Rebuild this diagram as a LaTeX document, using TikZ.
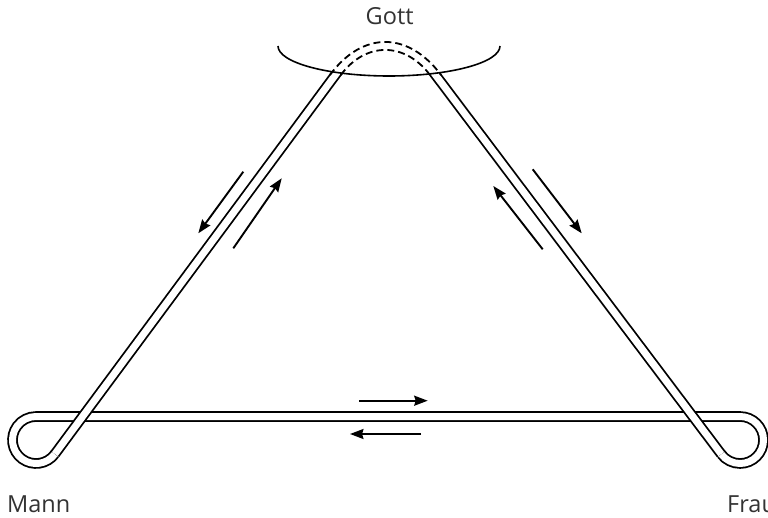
\documentclass[tikz,border=0pt]{standalone}
\usepackage{fontspec}
\setmainfont{Open Sans}
\usetikzlibrary{arrows.meta,calc}
\tikzset{
  band/.style={line width=1.8pt, double=white, double distance=7.0pt},
  hidden/.style={line width=1.8pt, dash pattern=on 7pt off 4pt},
  flow/.style={line width=1.9pt, -{Stealth[length=13.5pt,width=10pt,inset=1.5pt]}},
  lbl/.style={inner sep=0pt, anchor=base west, font=\fontsize{23.5}{26}\selectfont, text=black!80}
}
\begin{document}
\begin{tikzpicture}[x=1pt,y=1pt]
\useasboundingbox (0,0) rectangle (768,517);
% loop centres and tangent points
\coordinate (CL) at (36,77);
\coordinate (CR) at (740,77);
\coordinate (TL) at ($(CL)+(-36.5:23.5)$);
\coordinate (TR) at ($(CR)+(217:23.5)$);
% loops and the horizontal band
\draw[band] (TL) arc[start angle=-36.5, end angle=-270, radius=23.5]
  -- (740,100.5) arc[start angle=90, end angle=-143, radius=23.5];
% diagonal bands, hidden inside the halo ellipse
\begin{scope}[even odd rule]
  \clip (-10,-10) rectangle (780,530) (389,471) ellipse [x radius=111, y radius=30];
  \draw[band] (TL) -- ++(53.5:490);
  \draw[band] (TR) -- ++(127:490);
\end{scope}
% dashed arch behind the halo
\coordinate (LO) at (329.9,442);
\coordinate (RO) at (441.1,442);
\coordinate (LI) at (340.8,442);
\coordinate (RI) at (430.0,442);
\draw[hidden] (LO) .. controls (362.6,486.2) and (408.0,485.9) .. (RO);
\draw[hidden] (LI) .. controls (365.6,475.5) and (404.9,475.3) .. (RI);
% halo
\draw[line width=1.6pt] (278,471) arc[start angle=180, end angle=360, x radius=111, y radius=30];
% arrows
\coordinate (a1s) at (243.3,345.3); \coordinate (a1e) at (198.3,283.7);
\coordinate (a2s) at (233.3,268.7); \coordinate (a2e) at (281.7,338.7);
\coordinate (a3s) at (542.7,267.7); \coordinate (a3e) at (493.3,331);
\coordinate (a4s) at (532.7,347.7); \coordinate (a4e) at (581.7,283.7);
\coordinate (a5s) at (359,116.3);   \coordinate (a5e) at (427.7,116.3);
\coordinate (a6s) at (421,83);      \coordinate (a6e) at (350,83);
\draw[flow] (a1s) -- (a1e);
\draw[flow] (a2s) -- (a2e);
\draw[flow] (a3s) -- (a3e);
\draw[flow] (a4s) -- (a4e);
\draw[flow] (a5s) -- (a5e);
\draw[flow] (a6s) -- (a6e);
% labels
\node[lbl] (gott) at (365.5,492) {Gott};
\node[lbl] (mann) at (7,5) {Mann};
\node[lbl] (frau) at (727,5) {Frau};
\end{tikzpicture}
\end{document}
